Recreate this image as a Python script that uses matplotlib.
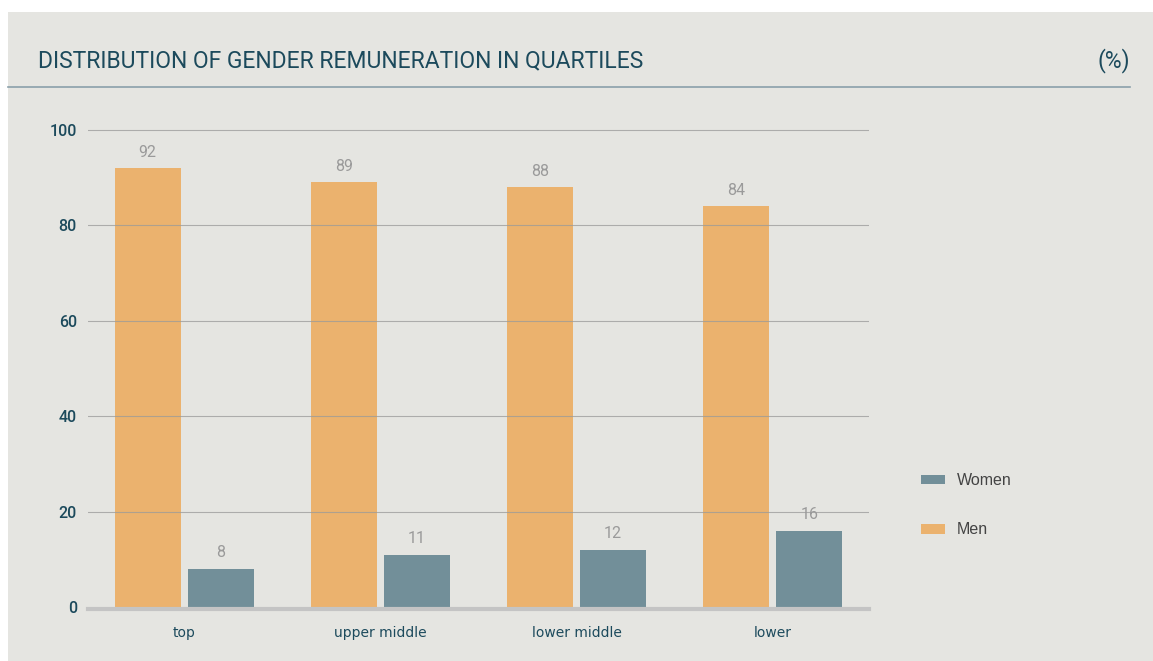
import matplotlib
matplotlib.use("Agg")
import matplotlib.pyplot as plt
from matplotlib.patches import Rectangle
from matplotlib.lines import Line2D
import numpy as np

categories = ["top", "upper middle", "lower middle", "lower"]
men = [92, 89, 88, 84]
women = [8, 11, 12, 16]
yticks = [0, 20, 40, 60, 80, 100]
title = "DISTRIBUTION OF GENDER REMUNERATION IN QUARTILES"
unit = "(%)"

W, H = 1153, 661
BG = "#e5e5e1"
ORANGE = "#ebb26e"
TEAL = "#728f99"
DARK = "#1c4a5c"
VALGREY = "#9a9a9a"

fig = plt.figure(figsize=(W / 100, H / 100), dpi=100)
fig.patch.set_facecolor("white")
fig.add_artist(Rectangle((8 / W, 0), 1 - 8 / W, 1 - 12 / H,
                         transform=fig.transFigure, facecolor=BG,
                         edgecolor="none", zorder=-10))

def fx(px):
    return px / W

def fy(py):
    return 1 - py / H

y0, y100 = 607, 130
ppu = (y0 - y100) / 100.0
ytop = 104
top_px = y0 - ytop * ppu
ax = fig.add_axes([fx(88), fy(y0), fx(869) - fx(88), (y0 - top_px) / H])
ax.set_facecolor("none")

num = dict(family="Roboto", weight="medium")
reg = dict(family="Roboto", weight="normal")

x = np.arange(len(categories))
bw = 66 / 196.0
off = 36.5 / 196.0
bm = ax.bar(x - off, men, width=bw, color=ORANGE, zorder=2, label="Men")
bwn = ax.bar(x + off, women, width=bw, color=TEAL, zorder=2, label="Women")

for rect, v in zip(list(bm) + list(bwn), men + women):
    ax.text(rect.get_x() + rect.get_width() / 2, v + 1.8, str(v),
            ha="center", va="bottom", color=VALGREY, fontsize=11.5,
            zorder=4, **reg)

ax.set_xlim(-0.49, 3.49)
ax.set_ylim(0, ytop)
for t in yticks[1:]:
    ax.axhline(t, color="#9a9a9a", lw=0.8, alpha=0.75, zorder=3)

ax.set_yticks(yticks)
ax.set_yticklabels([str(t) for t in yticks], fontsize=11.5, **num)
ax.set_xticks(x)
ax.set_xticklabels(categories, fontsize=11, **num)
ax.tick_params(axis="both", length=0, labelcolor=DARK)
ax.tick_params(axis="y", pad=8)
ax.tick_params(axis="x", pad=12)

for s in ["top", "right", "left"]:
    ax.spines[s].set_visible(False)
ax.spines["bottom"].set_color("#c4c4c4")
ax.spines["bottom"].set_linewidth(3)
ax.spines["bottom"].set_position(("outward", 1.5))

fig.text(fx(38), fy(61), title, ha="left", va="center", color=DARK,
         fontsize=16.5, **reg)
fig.text(fx(1130), fy(61), unit, ha="right", va="center", color=DARK,
         fontsize=16.5, **reg)
fig.add_artist(Line2D([fx(8), fx(1130)], [fy(87), fy(87)],
                      transform=fig.transFigure, color="#8aa0aa", lw=1.2))

leg = fig.legend(handles=[bwn, bm], labels=["Women", "Men"],
                 loc="upper left", bbox_to_anchor=(fx(921), fy(473)),
                 frameon=False, borderpad=0, borderaxespad=0,
                 handlelength=1.5, handleheight=0.55, handletextpad=0.72,
                 labelspacing=2.15,
                 prop=dict(family="Liberation Sans", size=11.5))
for t in leg.get_texts():
    t.set_color("#444444")

fig.savefig("out.png", dpi=100, facecolor=fig.get_facecolor())
